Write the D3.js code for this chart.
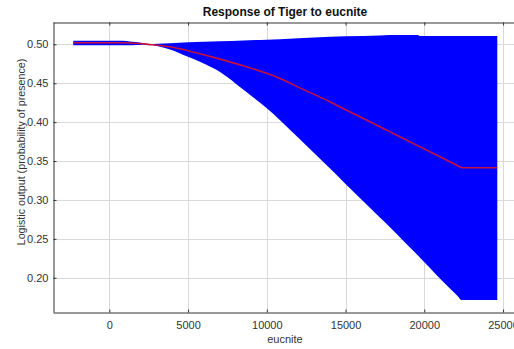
<!DOCTYPE html>
<html>
<head>
<meta charset="utf-8">
<script src="https://cdn.jsdelivr.net/npm/d3@7"></script>
<style>
  body { margin: 0; background: #fff; }
  svg { display: block; overflow: hidden; font-family: Arial, "Liberation Sans", sans-serif; }
  .grid line { stroke: #d9d9d9; stroke-width: 1; }
  .axis path, .axis line { stroke: #333; }
  .axis text { fill: #333; font-size: 11px; }
</style>
</head>
<body>
<svg id="chart"></svg>
<script>
// values
const xVals  = [-2290, 880, 1300, 1700, 2100, 2460, 3100, 3850, 5000, 6000, 7030, 8500, 10000, 10840, 12000, 14000, 15000, 17180, 17820, 19600, 19700, 20990, 22100, 22375, 24635]
const meanVals  = [0.502, 0.502, 0.5018, 0.5013, 0.5007, 0.500, 0.4988, 0.497, 0.4918, 0.4866, 0.481, 0.4725, 0.4627, 0.456, 0.445, 0.4262, 0.416, 0.394, 0.3875, 0.3695, 0.3685, 0.3555, 0.3442, 0.3414, 0.3414]
const lowerVals = [0.4987, 0.4987, 0.4988, 0.4991, 0.4995, 0.4998, 0.4975, 0.4935, 0.484, 0.4753, 0.4645, 0.442, 0.4177, 0.4025, 0.380, 0.3406, 0.3205, 0.2775, 0.265, 0.2285, 0.2265, 0.1992, 0.1770, 0.1714, 0.1714]
const upperVals = [0.5046, 0.5046, 0.5038, 0.503, 0.5016, 0.5005, 0.5008, 0.5013, 0.5026, 0.5034, 0.504, 0.505, 0.506, 0.5066, 0.5078, 0.5098, 0.5105, 0.5115, 0.512, 0.512, 0.5107, 0.5107, 0.5107, 0.5107, 0.5107]
const xTicks = [0, 5000, 10000, 15000, 20000, 25000]
const yTicks = [0.20, 0.25, 0.30, 0.35, 0.40, 0.45, 0.50]

const width = 514, height = 349
const plot = {left: 53, top: 22, right: 520, bottom: 312}

const data = xVals.map((x, i) => ({x: x, mean: meanVals[i], lo: lowerVals[i], hi: upperVals[i]}))

const svg = d3.select('#chart')
    .attr('width', width)
    .attr('height', height)

const xScale = d3.scaleLinear()
    .domain([-3575, 26076])
    .range([plot.left, plot.right])

const yScale = d3.scaleLinear()
    .domain([0.156, 0.5287])
    .range([plot.bottom, plot.top])

// gridlines
const grid = svg.append('g').attr('class', 'grid')
grid.selectAll('.vgrid')
    .data(xTicks)
    .join('line')
        .attr('class', 'vgrid')
        .attr('x1', d => Math.round(xScale(d)) + 0.5)
        .attr('x2', d => Math.round(xScale(d)) + 0.5)
        .attr('y1', plot.top)
        .attr('y2', plot.bottom)
grid.selectAll('.hgrid')
    .data(yTicks)
    .join('line')
        .attr('class', 'hgrid')
        .attr('x1', plot.left)
        .attr('x2', plot.right)
        .attr('y1', d => Math.round(yScale(d)) + 0.5)
        .attr('y2', d => Math.round(yScale(d)) + 0.5)

// blue band
const band = d3.area()
    .x(d => xScale(d.x))
    .y0(d => yScale(d.lo))
    .y1(d => yScale(d.hi))
    .curve(d3.curveMonotoneX)

svg.append('path')
    .datum(data)
    .attr('d', band)
    .attr('fill', '#0000ff')

// mean response
const line = d3.line()
    .x(d => xScale(d.x))
    .y(d => yScale(d.mean))
    .curve(d3.curveMonotoneX)

svg.append('path')
    .datum(data)
    .attr('d', line)
    .attr('fill', 'none')
    .attr('stroke', '#c8103c')
    .attr('stroke-width', 1.6)

// axes / frame
const xAxis = d3.axisBottom(xScale).tickValues(xTicks).tickFormat(d3.format('d'))
    .tickSizeInner(-3).tickSizeOuter(0).tickPadding(9)
const xAxisTop = d3.axisTop(xScale).tickValues(xTicks).tickFormat('')
    .tickSizeInner(-3).tickSizeOuter(0)
const yAxis = d3.axisLeft(yScale).tickValues(yTicks).tickFormat(d3.format('.2f'))
    .tickSizeInner(-3).tickSizeOuter(0).tickPadding(5)

svg.append('g')
    .attr('class', 'axis x-axis')
    .attr('transform', `translate(0,${plot.bottom + 0.5})`)
    .call(xAxis)

svg.append('g')
    .attr('class', 'axis x-axis-top')
    .attr('transform', `translate(0,${plot.top + 0.5})`)
    .call(xAxisTop)

svg.append('g')
    .attr('class', 'axis y-axis')
    .attr('transform', `translate(${plot.left + 0.5},0)`)
    .call(yAxis)

// titles
svg.append('text')
    .attr('x', 285)
    .attr('y', 16)
    .attr('text-anchor', 'middle')
    .style('font-size', '12px')
    .style('font-weight', 'bold')
    .style('fill', '#111')
    .text('Response of Tiger to eucnite')

svg.append('text')
    .attr('x', 285)
    .attr('y', 343)
    .attr('text-anchor', 'middle')
    .style('font-size', '11px')
    .style('fill', '#333')
    .text('eucnite')

svg.append('text')
    .attr('transform', 'translate(25,152) rotate(-90)')
    .attr('text-anchor', 'middle')
    .style('font-size', '10.7px')
    .style('fill', '#333')
    .text('Logistic output (probability of presence)')
</script>
</body>
</html>
